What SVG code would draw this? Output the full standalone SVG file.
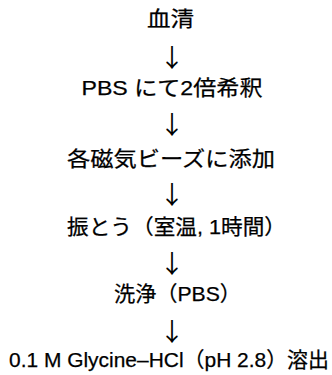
<svg xmlns="http://www.w3.org/2000/svg" width="332" height="375" viewBox="0 0 332 375">
<style>
.t{font-family:"Liberation Sans","Noto Sans CJK JP",sans-serif;font-size:21px;fill:#000;stroke:#000;stroke-width:0.25}
.a{font-family:"Noto Sans CJK JP",sans-serif;font-size:25px;fill:#000;text-anchor:middle}
</style>
<rect width="332" height="375" fill="#fff"/>
<g id="connectors">
<text class="a" x="172" y="67">↓</text>
<text class="a" x="172" y="134">↓</text>
<text class="a" x="172" y="204">↓</text>
<text class="a" x="172" y="273">↓</text>
<text class="a" x="172" y="341">↓</text>
</g>
<g id="n1"><text class="t" x="147" y="25.5" textLength="47" lengthAdjust="spacingAndGlyphs">血清</text></g>
<g id="n2"><text class="t" x="81.5" y="95" textLength="181" lengthAdjust="spacingAndGlyphs">PBS にて2倍希釈</text></g>
<g id="n3"><text class="t" x="67" y="165.5" textLength="208" lengthAdjust="spacingAndGlyphs">各磁気ビーズに添加</text></g>
<g id="n4"><text class="t" x="67" y="233.5" textLength="219" lengthAdjust="spacingAndGlyphs">振とう（室温, 1時間）</text></g>
<g id="n5"><text class="t" x="114" y="300.5" textLength="127" lengthAdjust="spacingAndGlyphs">洗浄（PBS）</text></g>
<g id="n6"><text class="t" x="9" y="367" textLength="320" lengthAdjust="spacingAndGlyphs">0.1 M Glycine–HCl（pH 2.8）溶出</text></g>
</svg>
